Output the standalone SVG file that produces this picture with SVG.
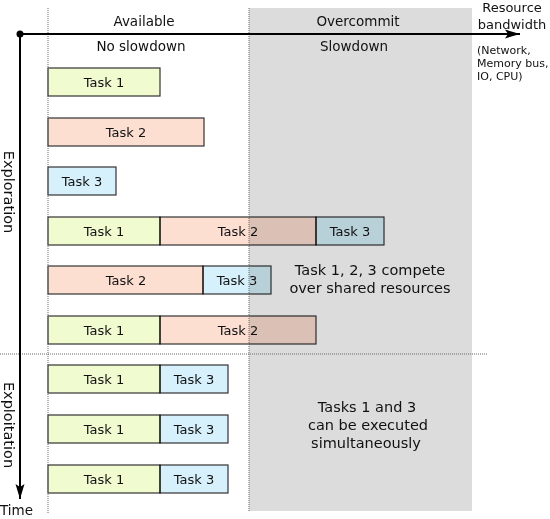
<svg xmlns="http://www.w3.org/2000/svg" width="550" height="519" viewBox="0 0 550 519">
<style>
text{font-family:"DejaVu Sans","Liberation Sans",sans-serif;fill:#111}
.t{font-size:13px;text-anchor:middle}
.h{font-size:13.5px;text-anchor:middle}
.a{font-size:14.5px;text-anchor:middle}
.s{font-size:11px}
.box{stroke:#333;stroke-width:1.2;mix-blend-mode:multiply}
.t1{fill:#f1fbd0}
.t2{fill:#fddfd2}
.t3{fill:#d6f1fb}
.dot{stroke:#666;stroke-width:1;stroke-dasharray:1,1;fill:none}
.ax{stroke:#000;stroke-width:2;fill:none}
</style>
<defs>
<marker id="ah" markerWidth="16" markerHeight="10" refX="15" refY="5" orient="auto" markerUnits="userSpaceOnUse">
<path d="M0,0.5 L15,5 L0,9.5 L3,5 Z" fill="#000"/>
</marker>
</defs>
<rect id="overcommit-zone" x="249" y="8" width="223" height="503" fill="#dcdcdc"/>
<g id="headers">
<text class="h" x="144" y="26">Available</text>
<text class="h" x="141" y="51">No slowdown</text>
<text class="h" x="358" y="26">Overcommit</text>
<text class="h" x="354" y="51">Slowdown</text>
<text class="t" x="512" y="12">Resource</text>
<text class="t" x="512" y="29">bandwidth</text>
<text class="s" x="477" y="54">(Network,</text>
<text class="s" x="477" y="67">Memory bus,</text>
<text class="s" x="477" y="80">IO, CPU)</text>
<text font-size="14.5" text-anchor="middle" transform="translate(4,192) rotate(90)">Exploration</text>
<text font-size="14.5" text-anchor="middle" transform="translate(4,425) rotate(90)">Exploitation</text>
<text font-size="13.5" x="0" y="515">Time</text>
</g>
<g id="r1-task1"><rect class="box t1" x="48" y="68" width="112" height="28"/><text class="t" x="104" y="87">Task 1</text></g>
<g id="r2-task2"><rect class="box t2" x="48" y="118" width="156" height="28"/><text class="t" x="126" y="137">Task 2</text></g>
<g id="r3-task3"><rect class="box t3" x="48" y="167" width="68" height="28"/><text class="t" x="82" y="186">Task 3</text></g>
<g id="r4-task1"><rect class="box t1" x="48" y="217" width="112" height="28"/><text class="t" x="104" y="236">Task 1</text></g>
<g id="r4-task2"><rect class="box t2" x="160" y="217" width="156" height="28"/><text class="t" x="238" y="236">Task 2</text></g>
<g id="r4-task3"><rect class="box t3" x="316" y="217" width="68" height="28"/><text class="t" x="350" y="236">Task 3</text></g>
<g id="r5-task2"><rect class="box t2" x="48" y="266" width="155" height="28"/><text class="t" x="126" y="285">Task 2</text></g>
<g id="r5-task3"><rect class="box t3" x="203" y="266" width="68" height="28"/><text class="t" x="237" y="285">Task 3</text></g>
<g id="r6-task1"><rect class="box t1" x="48" y="316" width="112" height="28"/><text class="t" x="104" y="335">Task 1</text></g>
<g id="r6-task2"><rect class="box t2" x="160" y="316" width="156" height="28"/><text class="t" x="238" y="335">Task 2</text></g>
<g id="r7-task1"><rect class="box t1" x="48" y="365" width="112" height="28"/><text class="t" x="104" y="384">Task 1</text></g>
<g id="r7-task3"><rect class="box t3" x="160" y="365" width="68" height="28"/><text class="t" x="194" y="384">Task 3</text></g>
<g id="r8-task1"><rect class="box t1" x="48" y="415" width="112" height="28"/><text class="t" x="104" y="434">Task 1</text></g>
<g id="r8-task3"><rect class="box t3" x="160" y="415" width="68" height="28"/><text class="t" x="194" y="434">Task 3</text></g>
<g id="r9-task1"><rect class="box t1" x="48" y="465" width="112" height="28"/><text class="t" x="104" y="484">Task 1</text></g>
<g id="r9-task3"><rect class="box t3" x="160" y="465" width="68" height="28"/><text class="t" x="194" y="484">Task 3</text></g>
<g id="notes">
<text class="a" x="370" y="275">Task 1, 2, 3 compete</text>
<text class="a" x="370" y="293">over shared resources</text>
<text class="a" x="367" y="412">Tasks 1 and 3</text>
<text class="a" x="368" y="430">can be executed</text>
<text class="a" x="366" y="448">simultaneously</text>
</g>
<g id="connectors">
<line class="dot" x1="48" y1="8" x2="48" y2="513"/>
<line class="dot" x1="249" y1="8" x2="249" y2="511"/>
<line class="dot" x1="0" y1="354" x2="487" y2="354"/>
<line class="ax" x1="20" y1="34" x2="520" y2="34" marker-end="url(#ah)"/>
<line class="ax" x1="20" y1="34" x2="20" y2="499" marker-end="url(#ah)"/>
<circle cx="20" cy="34" r="3.5" fill="#000"/>
</g>
</svg>
